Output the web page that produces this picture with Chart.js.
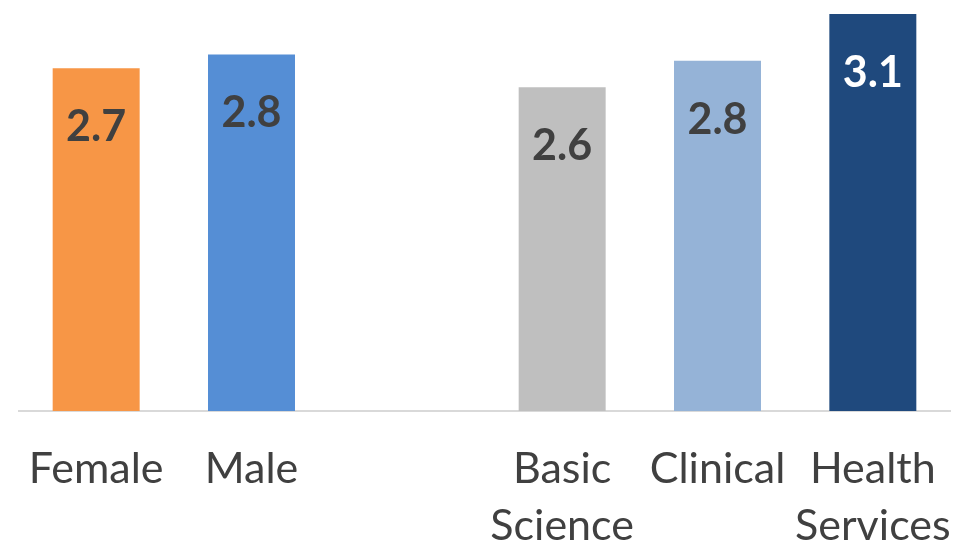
<!DOCTYPE html>
<html>
<head>
<meta charset="utf-8">
<script src="https://cdn.jsdelivr.net/npm/chart.js@4/dist/chart.umd.min.js"></script>
<style>
html,body{margin:0;padding:0;background:#fff;}
#c{display:block;}
</style>
</head>
<body>
<canvas id="c" width="957" height="551"></canvas>
<script>
const categories = ['Female', 'Male', '', ['Basic', 'Science'], 'Clinical', ['Health', 'Services']];
const values = [2.71, 2.82, null, 2.56, 2.77, 3.14];
const barColors = ['#F79646', '#558ED5', '#FFFFFF', '#BFBFBF', '#95B3D7', '#1F497D'];
const labelColors = ['#404040', '#404040', '#404040', '#404040', '#404040', '#FFFFFF'];

const valueLabels = {
  id: 'valueLabels',
  afterDatasetsDraw(chart) {
    const ctx = chart.ctx;
    const meta = chart.getDatasetMeta(0);
    ctx.save();
    ctx.font = 'bold 43px Lato';
    ctx.textAlign = 'center';
    ctx.textBaseline = 'middle';
    meta.data.forEach((bar, i) => {
      const v = values[i];
      if (v === null || v === undefined) return;
      ctx.fillStyle = labelColors[i];
      ctx.fillText(v.toFixed(1), bar.x, bar.y + 59);
    });
    ctx.restore();
  }
};

new Chart(document.getElementById('c'), {
  type: 'bar',
  data: {
    labels: categories,
    datasets: [{
      data: values,
      backgroundColor: barColors,
      borderWidth: 0,
      barPercentage: 0.56,
      categoryPercentage: 1.0
    }]
  },
  options: {
    responsive: false,
    animation: false,
    events: [],
    layout: { padding: { left: 18.5, right: 6.5, top: 0, bottom: 0 } },
    plugins: { legend: { display: false }, tooltip: { enabled: false } },
    scales: {
      x: {
        offset: true,
        grid: { display: false, drawTicks: false },
        border: { display: true, color: '#D9D9D9', width: 2 },
        ticks: {
          color: '#404040',
          font: { family: 'Lato', size: 43, lineHeight: 1.326 },
          padding: 30,
          maxRotation: 0,
          autoSkip: false
        },
        afterFit(s) { s.height = 140; s.paddingLeft = 0; s.paddingRight = 0; }
      },
      y: {
        display: false,
        min: 0,
        max: 3.25
      }
    }
  },
  plugins: [valueLabels]
});
</script>
</body>
</html>
